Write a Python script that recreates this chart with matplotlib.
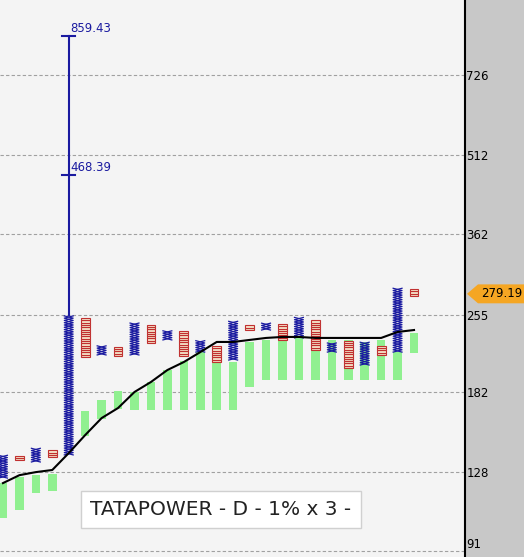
import numpy as np
import matplotlib.pyplot as plt
from matplotlib.patches import Rectangle, Polygon

# P&F columns: (kind, low, high), 1% box, 3 box reversal
col_kind = ['X', 'O', 'X', 'O', 'X', 'O', 'X', 'O', 'X', 'O', 'X', 'O', 'X',
            'O', 'X', 'O', 'X', 'O', 'X', 'O', 'X', 'O', 'X', 'O', 'X', 'O']
col_low = [124.9, 135.1, 134.0, 136.9, 138.2, 212.0, 213.8, 212.9, 213.8, 225.3, 228.3, 212.9, 216.5,
           207.3, 209.1, 238.4, 238.4, 228.3, 230.3, 218.5, 216.5, 202.0, 204.6, 213.8, 216.5, 276.6]
col_high = [138.2, 137.5, 142.4, 140.6, 254.5, 251.2, 223.3, 222.3, 246.8, 243.7, 238.4, 236.4, 228.3,
            223.3, 246.8, 243.7, 246.8, 243.7, 251.2, 249.0, 226.3, 228.3, 226.3, 223.3, 286.4, 283.9]

# green indicator bars (index, low, high)
bar_idx = [0, 1, 2, 3, 5, 6, 7, 8, 9, 10, 11, 12, 13, 14, 15, 16, 17, 18, 19, 20, 21, 22, 23, 24, 25]
bar_low = [104.9, 108.6, 117.0, 117.9, 150.0, 161.7, 168.9, 168.2, 168.2, 168.2, 168.2, 168.2, 168.2,
           168.2, 185.9, 191.7, 191.7, 191.7, 191.7, 191.7, 191.7, 191.7, 191.7, 191.7, 215.6]
bar_high = [122.2, 125.6, 126.5, 127.4, 167.4, 175.7, 183.0, 181.9, 190.0, 200.2, 208.2, 216.5, 207.3,
            207.3, 226.3, 228.3, 228.3, 230.3, 226.3, 228.3, 228.3, 226.3, 228.3, 216.5, 235.4]

# moving average line
ma = [122.2, 126.5, 128.2, 129.4, 139.3, 150.7, 162.3, 169.6, 181.9, 190.0, 200.2, 207.3, 216.5,
      226.3, 226.3, 228.3, 230.3, 231.3, 231.3, 230.3, 230.3, 230.3, 230.3, 230.3, 236.4, 238.4]

y_ticks = [91, 128, 182, 255, 362, 512, 726]
spike_top = 859.43
spike_mid = 468.39
last_price = 279.19
title = "TATAPOWER - D - 1% x 3 -"

fig = plt.figure(figsize=(5.24, 5.57), dpi=100)
fig.patch.set_facecolor('#c8c8c8')
ax = fig.add_axes([0, 0, 465 / 524, 1])
ax.set_facecolor('#f4f4f4')
ax.set_yscale('log')
ax.set_ylim(88.5, 1007)
ax.set_xlim(-0.18, 28.1)

for y in y_ticks:
    ax.axhline(y, color='#a0a0a0', lw=0.8, ls=(0, (3, 2)), zorder=1)

w = 0.26
for i, lo, hi in zip(bar_idx, bar_low, bar_high):
    ax.add_patch(Rectangle((i - w, lo), 2 * w, hi - lo, color='#90f090', lw=0, zorder=2))

step = 1.01
for i, (k, lo, hi) in enumerate(zip(col_kind, col_low, col_high)):
    n = max(1, int(round(np.log(hi / lo) / np.log(step))))
    levels = lo * step ** np.arange(n + 1)
    hw = 0.27
    if k == 'X':
        xs = []
        ys = []
        for j, lv in enumerate(levels):
            xs.append(i - hw if j % 2 == 0 else i + hw)
            ys.append(lv)
        ax.plot(xs, ys, color='#1a1aa0', lw=0.9, zorder=3)
        ax.plot([2 * i - x for x in xs], ys, color='#1a1aa0', lw=0.9, zorder=3)
    else:
        for lv in levels[:-1]:
            ax.add_patch(Rectangle((i - hw, lv), 2 * hw, lv * (step - 1),
                                   facecolor='#f4e2c8', edgecolor='#c03030', lw=0.8, zorder=3))

ax.plot(range(len(ma)), ma, color='black', lw=1.5, zorder=4)

# spike annotation on the big X column
ax.plot([4, 4], [col_high[4], spike_top], color='#1a1aa0', lw=1.5, zorder=4)
for v in (spike_top, spike_mid):
    ax.plot([3.6, 4.4], [v, v], color='#1a1aa0', lw=1.5, zorder=4)
    ax.text(4.1, v * 1.005, f"{v:.2f}", color='#1a1aa0', fontsize=8.5, va='bottom', ha='left')

ax.text(0.475, 0.085, title, transform=ax.transAxes, ha='center', va='center', fontsize=14.5,
        color='#222222', bbox=dict(boxstyle='square,pad=0.45', facecolor='white', edgecolor='#d0d0d0'))

ax.set_xticks([])
ax.yaxis.tick_right()
ax.set_yticks(y_ticks)
ax.set_yticklabels([str(v) for v in y_ticks], fontsize=8.5)
ax.get_yticklabels()[0].set_va('bottom')
ax.yaxis.set_minor_locator(plt.NullLocator())
ax.tick_params(axis='y', length=0, pad=1, direction='in')
for s in ['top', 'left', 'bottom']:
    ax.spines[s].set_visible(False)
ax.spines['right'].set_color('black')
ax.spines['right'].set_linewidth(1.5)

# last price tag
yf = ax.transAxes.inverted().transform(ax.transData.transform((0, last_price)))[1]
tag = Polygon([[467 / 524, yf], [478 / 524, yf + 0.017], [524 / 524, yf + 0.017],
               [524 / 524, yf - 0.017], [478 / 524, yf - 0.017]], closed=True,
              transform=fig.transFigure, facecolor='#f5a623', edgecolor='none')
fig.patches.append(tag)
fig.text(502 / 524, yf, f"{last_price:.2f}", ha='center', va='center', fontsize=8.5)

fig.savefig('out.png', dpi=100)
